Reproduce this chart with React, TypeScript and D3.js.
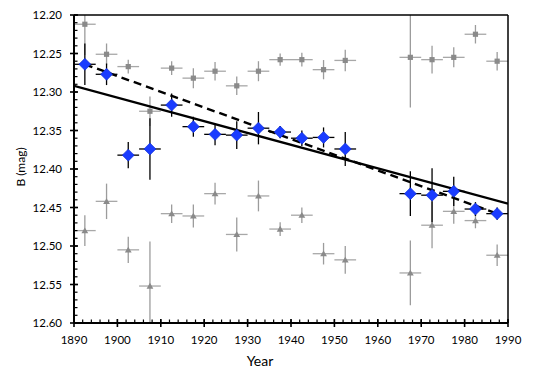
import React from "react";
import * as d3 from "d3";

const years = [1892.5, 1897.5, 1902.5, 1907.5, 1912.5, 1917.5, 1922.5, 1927.5, 1932.5, 1937.5, 1942.5, 1947.5, 1952.5, 1967.5, 1972.5, 1977.5, 1982.5, 1987.5];
const blueMag = [12.264, 12.277, 12.382, 12.374, 12.317, 12.345, 12.355, 12.356, 12.347, 12.352, 12.36, 12.359, 12.374, 12.432, 12.434, 12.429, 12.452, 12.458];
const blueErr = [0.027, 0.014, 0.017, 0.04, 0.015, 0.013, 0.014, 0.018, 0.021, 0.008, 0.01, 0.013, 0.022, 0.029, 0.035, 0.019, 0.009, 0.008];
const upperMag = [12.212, 12.251, 12.267, 12.325, 12.269, 12.282, 12.273, 12.292, 12.273, 12.258, 12.258, 12.271, 12.259, 12.255, 12.258, 12.255, 12.225, 12.26];
const upperErr = [0.04, 0.014, 0.009, 0.019, 0.009, 0.013, 0.012, 0.012, 0.013, 0.008, 0.009, 0.0125, 0.014, 0.065, 0.018, 0.013, 0.012, 0.012];
const lowerMag = [12.48, 12.442, 12.505, 12.552, 12.458, 12.461, 12.432, 12.485, 12.435, 12.478, 12.46, 12.51, 12.518, 12.535, 12.473, 12.455, 12.467, 12.512];
const lowerErr = [0.02, 0.023, 0.017, 0.058, 0.012, 0.015, 0.014, 0.022, 0.02, 0.009, 0.01, 0.014, 0.018, 0.042, 0.03, 0.016, 0.01, 0.014];
const binHalf = 2.5;

const solidYears = [1890, 1990];
const solidMag = [12.292, 12.445];
const dashYears = [1892.5, 1987.5];
const dashMag = [12.264, 12.458];

const xMajor = [1890, 1900, 1910, 1920, 1930, 1940, 1950, 1960, 1970, 1980, 1990];
const yMajor = [12.2, 12.25, 12.3, 12.35, 12.4, 12.45, 12.5, 12.55, 12.6];

const W = 535, H = 378;
const L = 74, R = 508, T = 15, B = 323;
const FONT = "Lato, 'Open Sans', sans-serif";

export default function App() {
  const x = d3.scaleLinear().domain([1890, 1990]).range([L, R]);
  const y = d3.scaleLinear().domain([12.2, 12.6]).range([T, B]);
  const xMinor = d3.range(1890, 1990.001, 2);
  const yMinor = d3.range(0, 41).map((i) => 12.2 + i * 0.01);
  const line = d3.line<[number, number]>().x((d) => x(d[0])).y((d) => y(d[1]));

  const grayBars = (mags: number[], errs: number[], kind: string) =>
    years.map((yr, i) => (
      <g key={kind + i}>
        <line x1={x(yr)} x2={x(yr)} y1={y(mags[i] - errs[i])} y2={y(mags[i] + errs[i])} stroke="#9c9c9c" strokeWidth={1.3} />
        <line x1={x(yr - binHalf)} x2={x(yr + binHalf)} y1={y(mags[i])} y2={y(mags[i])} stroke="#a8a8a8" strokeWidth={1.3} />
      </g>
    ));

  return (
    <svg width={W} height={H} style={{ position: "fixed", left: 0, top: 0, background: "#fff" }} fontFamily={FONT}>
      <defs>
        <clipPath id="plot">
          <rect x={L} y={T} width={R - L} height={B - T} />
        </clipPath>
      </defs>
      <rect x={0} y={0} width={W} height={H} fill="#fff" />
      <g clipPath="url(#plot)">
        {grayBars(upperMag, upperErr, "u")}
        {grayBars(lowerMag, lowerErr, "l")}
        {years.map((yr, i) => (
          <rect key={"us" + i} x={x(yr) - 2.6} y={y(upperMag[i]) - 2.6} width={5.2} height={5.2} fill="#8a8a8a" />
        ))}
        {years.map((yr, i) => {
          const cx = x(yr), cy = y(lowerMag[i]);
          return <path key={"lt" + i} d={`M${cx},${cy - 3.2}L${cx + 3.4},${cy + 2.6}L${cx - 3.4},${cy + 2.6}Z`} fill="#8a8a8a" />;
        })}
        <path d={line(solidYears.map((yr, i) => [yr, solidMag[i]]) as [number, number][]) || ""} stroke="#000" strokeWidth={2.4} fill="none" />
        <path d={line(dashYears.map((yr, i) => [yr, dashMag[i]]) as [number, number][]) || ""} stroke="#000" strokeWidth={2.4} fill="none" strokeDasharray="8,5" />
        {years.map((yr, i) => (
          <g key={"be" + i}>
            <line x1={x(yr)} x2={x(yr)} y1={y(blueMag[i] - blueErr[i])} y2={y(blueMag[i] + blueErr[i])} stroke="#000" strokeWidth={1.3} />
            <line x1={x(yr - binHalf)} x2={x(yr + binHalf)} y1={y(blueMag[i])} y2={y(blueMag[i])} stroke="#000" strokeWidth={1.3} />
          </g>
        ))}
      </g>
      {years.map((yr, i) => {
        const cx = x(yr), cy = y(blueMag[i]);
        return <path key={"bd" + i} d={`M${cx},${cy - 6}L${cx + 6},${cy}L${cx},${cy + 6}L${cx - 6},${cy}Z`} fill="#1a3cff" stroke="#0a2ad0" strokeWidth={0.6} />;
      })}
      {/* frame */}
      <line x1={L} x2={R} y1={T} y2={T} stroke="#000" strokeWidth={1.5} />
      <line x1={R} x2={R} y1={T} y2={B} stroke="#000" strokeWidth={1.5} />
      <line x1={L} x2={L} y1={T} y2={B} stroke="#000" strokeWidth={2} />
      <line x1={L} x2={R} y1={B} y2={B} stroke="#000" strokeWidth={2} />
      {/* y ticks */}
      {yMinor.map((v, i) => (
        <line key={"ym" + i} x1={L} x2={L + 3.5} y1={y(v)} y2={y(v)} stroke="#000" strokeWidth={1.2} />
      ))}
      {yMajor.map((v, i) => (
        <g key={"yM" + i}>
          <line x1={L - 4} x2={L + 4} y1={y(v)} y2={y(v)} stroke="#000" strokeWidth={1.6} />
          <text x={62} y={y(v)} dy="0.35em" textAnchor="end" fontSize={11.5} fill="#000">{v.toFixed(2)}</text>
        </g>
      ))}
      {/* x ticks */}
      {xMinor.map((v, i) => (
        <line key={"xm" + i} x1={x(v)} x2={x(v)} y1={B} y2={B - 3.5} stroke="#000" strokeWidth={1.2} />
      ))}
      {xMajor.map((v, i) => (
        <g key={"xM" + i}>
          <line x1={x(v)} x2={x(v)} y1={B - 4} y2={B + 4} stroke="#000" strokeWidth={1.6} />
          <text x={x(v)} y={340} dy="0.35em" textAnchor="middle" fontSize={11.5} fill="#000">{v}</text>
        </g>
      ))}
      <text x={260} y={361} dy="0.35em" textAnchor="middle" fontSize={14} fill="#000">Year</text>
      <text transform={`translate(21,${(T + B) / 2 - 2}) rotate(-90)`} textAnchor="middle" dy="0.35em" fontSize={12} fill="#000">B (mag)</text>
    </svg>
  );
}
